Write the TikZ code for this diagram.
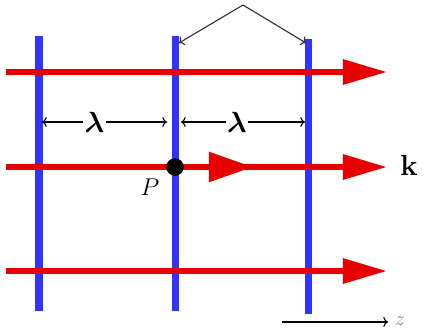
\documentclass[tikz,border=0pt]{standalone}
\usepackage{amsmath,bm}
\usetikzlibrary{arrows.meta}
\definecolor{wavefront}{RGB}{51,51,255}
\definecolor{raycol}{RGB}{230,0,0}
\tikzset{
  plane/.style={draw=wavefront,line width=0.175cm},
  ray/.style={draw=raycol,line width=0.15cm},
  rayhead/.style={-{Triangle[length=1.1cm,width=0.6cm]}},
  gap/.style={fill=white,inner sep=1pt,font=\huge}
}
\begin{document}
\begin{tikzpicture}[x=0.025cm,y=-0.025cm,>=To,thick]
  \useasboundingbox (0,0) rectangle (428,328);
  % wavefronts
  \coordinate (a1) at (39,36);  \coordinate (a2) at (39,311);
  \coordinate (b1) at (175,36); \coordinate (b2) at (175,311);
  \coordinate (c1) at (308,39); \coordinate (c2) at (308,314);
  \draw[plane] (a1) -- (a2);
  \draw[plane] (b1) -- (b2);
  \draw[plane] (c1) -- (c2);
  % rays
  \foreach \y in {72,167,271}
    \draw[ray,rayhead] (6,\y) -- (387,\y);
  \draw[ray,-{Triangle[length=1.1cm,width=0.72cm]}] (175,167) -- (253,167);
  \fill (175,167) circle (0.22cm);
  \node[font=\LARGE] (P) at (150,187) {$P$};
  \node[font=\huge] (k) at (409,165) {$\mathbf{k}$};
  % spacing
  \draw[<->] (42,122) -- node[gap,pos=0.42]{$\bm{\lambda}$} (167,122);
  \draw[<->] (181,122) -- node[gap,pos=0.45]{$\bm{\lambda}$} (305,122);
  % pointer to the planes
  \coordinate (apex) at (243,5);
  \draw[->,black!80] (apex) -- (179,43);
  \draw[->,black!80] (apex) -- (306,43);
  % axis
  \coordinate (z0) at (282,322);
  \node[gray,font=\Large,anchor=base west,inner sep=1pt] (z) at (393,325) {$z$};
  \draw[->] (z0) -- (388,322);
\end{tikzpicture}
\end{document}
